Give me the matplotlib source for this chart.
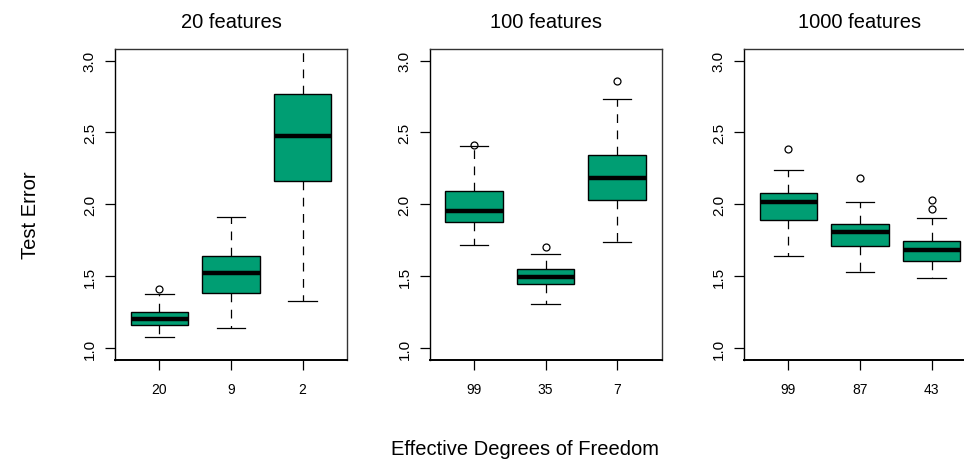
import matplotlib
matplotlib.use("Agg")
import matplotlib.pyplot as plt

plt.rcParams['font.family'] = ['Liberation Sans', 'DejaVu Sans']

titles = ["20 features", "100 features", "1000 features"]
tick_labels = [["20", "9", "2"], ["99", "35", "7"], ["99", "87", "43"]]

# per panel: lists of (whislo, q1, med, q3, whishi)
p1_whislo = [1.076, 1.137, 1.327]
p1_q1 = [1.160, 1.385, 2.159]
p1_med = [1.200, 1.526, 2.472]
p1_q3 = [1.253, 1.644, 2.766]
p1_whishi = [1.380, 1.915, 3.300]
p1_fliers = [[1.41], [], []]

p2_whislo = [1.714, 1.308, 1.735]
p2_q1 = [1.878, 1.445, 2.031]
p2_med = [1.957, 1.498, 2.180]
p2_q3 = [2.092, 1.549, 2.346]
p2_whishi = [2.409, 1.656, 2.729]
p2_fliers = [[2.416], [1.702], [2.856]]

p3_whislo = [1.642, 1.531, 1.491]
p3_q1 = [1.890, 1.711, 1.607]
p3_med = [2.017, 1.811, 1.684]
p3_q3 = [2.080, 1.864, 1.746]
p3_whishi = [2.240, 2.017, 1.908]
p3_fliers = [[2.388], [2.182], [1.969, 2.027]]

panels = [
    (p1_whislo, p1_q1, p1_med, p1_q3, p1_whishi, p1_fliers),
    (p2_whislo, p2_q1, p2_med, p2_q3, p2_whishi, p2_fliers),
    (p3_whislo, p3_q1, p3_med, p3_q3, p3_whishi, p3_fliers),
]

box_color = "#009E73"
W, H = 964, 464
fig = plt.figure(figsize=(W / 100, H / 100), dpi=100)

ax_w = 232
left0 = 115
step = 314.5
bottom_px = 103.3
height_px = 310.7

for i, (wl, q1, md, q3, wh, fl) in enumerate(panels):
    ax = fig.add_axes([(left0 + i * step) / W, bottom_px / H, ax_w / W, height_px / H])
    stats = []
    for j in range(3):
        stats.append(dict(whislo=wl[j], q1=q1[j], med=md[j], q3=q3[j],
                          whishi=wh[j], fliers=fl[j]))
    ax.bxp(stats, positions=[1, 2, 3], widths=0.8, patch_artist=True,
           boxprops=dict(facecolor=box_color, edgecolor="black", linewidth=1.0),
           medianprops=dict(color="black", linewidth=3.2, solid_capstyle="butt"),
           whiskerprops=dict(color="black", linewidth=0.9, linestyle=(0, (7, 6))),
           capprops=dict(color="black", linewidth=0.9),
           capwidths=0.4,
           flierprops=dict(marker="o", markerfacecolor="none", markeredgecolor="black",
                           markersize=5, markeredgewidth=0.9, linestyle="none"))
    ax.set_xlim(0.38, 3.62)
    ax.set_ylim(0.92, 3.08)
    ax.set_xticks([1, 2, 3])
    ax.set_xticklabels(tick_labels[i], fontsize=10)
    ax.set_yticks([1.0, 1.5, 2.0, 2.5, 3.0])
    ax.set_yticklabels(["1.0", "1.5", "2.0", "2.5", "3.0"], fontsize=11,
                       rotation=90, va="center")
    ax.tick_params(axis="both", direction="out", length=7, width=0.9, color="black")
    ax.tick_params(axis="x", pad=9)
    ax.tick_params(axis="y", pad=6)
    for s in ax.spines.values():
        s.set_linewidth(1.0)
        s.set_color("#333333")
    ax.spines["bottom"].set_color("black")
    ax.spines["bottom"].set_linewidth(1.4)
    ax.spines["left"].set_color("black")
    cx = (left0 + i * step + ax_w / 2) / W
    fig.text(cx, 1 - 22 / H, titles[i], ha="center", va="center", fontsize=14.5)

fig.text(31 / W, 1 - 215 / H, "Test Error", rotation=90, ha="center", va="center", fontsize=14.5)
fig.text(525 / W, 1 - 450 / H, "Effective Degrees of Freedom", ha="center", va="center", fontsize=14.5)

fig.savefig("out.png", dpi=100)
